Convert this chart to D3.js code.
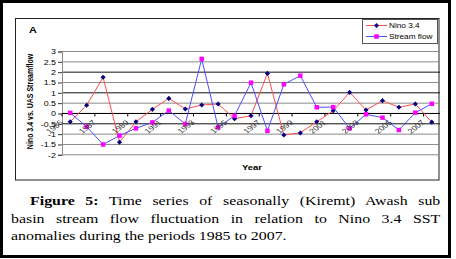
<!DOCTYPE html>
<html>
<head>
<meta charset="utf-8">
<script src="https://cdn.jsdelivr.net/npm/d3@7"></script>
<style>
body { margin: 0; background: #fff; width: 456px; height: 259px; overflow: hidden; position: relative; }
#chart { position: absolute; left: 0; top: 0; }
.cap { position: absolute; left: 11px; top: 193px; width: 338px; font-family: "Liberation Serif", "Times New Roman", serif;
       font-size: 12.5px; line-height: 17.5px; color: #000; transform: scaleX(1.27); transform-origin: 0 0; }
.cap div { text-align: justify; text-align-last: justify; white-space: nowrap; }
.cap div.first { text-indent: 15px; }
.cap div.last { text-align-last: left; }
</style>
</head>
<body>
<svg id="chart" width="456" height="259"></svg>
<div class="cap" id="caption"></div>
<script>
// data
const years = [1985, 1986, 1987, 1988, 1989, 1990, 1991, 1992, 1993, 1994, 1995, 1996,
               1997, 1998, 1999, 2000, 2001, 2002, 2003, 2004, 2005, 2006, 2007];
const nino = [-0.40, 0.40, 1.75, -1.39, -0.40, 0.20, 0.73, 0.22, 0.41, 0.46, -0.25, -0.11,
              1.94, -1.04, -0.94, -0.40, 0.13, 1.02, 0.17, 0.62, 0.30, 0.46, -0.42];
const flow = [0.03, -0.64, -1.50, -1.07, -0.72, -0.43, 0.14, -0.51, 2.64, -0.67, -0.11, 1.49,
              -0.84, 1.41, 1.83, 0.30, 0.31, -0.72, -0.04, -0.20, -0.80, 0.04, 0.47];
const labelYears = [1985, 1987, 1989, 1991, 1993, 1995, 1997, 1999, 2001, 2003, 2005, 2007];
const seriesNames = ["Nino 3.4", "Stream flow"];
const yTitle = "Nino 3.4 vs. UAS Streamflow";
const panelLabel = "A";
const xTitle = "Year";
const captionBold = "Figure 5:";
const captionLines = [" Time series of seasonally (Kiremt) Awash sub",
                      "basin stream flow fluctuation in relation to Nino 3.4 SST",
                      "anomalies during the periods 1985 to 2007."];

const SX = 1.27; // the picture is stretched sideways, text too
const font = "'Liberation Sans', Arial, sans-serif";
const svg = d3.select("#chart");

// frames
svg.append("rect").attr("x", 1.5).attr("y", 1.5).attr("width", 448).attr("height", 255)
  .attr("fill", "none").attr("stroke", "#000").attr("stroke-width", 3);
svg.append("rect").attr("x", 15.5).attr("y", 18.5).attr("width", 423.5).attr("height", 161.5)
  .attr("fill", "none").attr("stroke", "#222").attr("stroke-width", 1);

const x = d3.scaleBand().domain(years).range([62, 440]);
const cx = d => x(d) + x.bandwidth() / 2;
const y = d3.scaleLinear().domain([-2, 3]).range([154.8, 51.5]);

// gridlines (some look darker in the picture)
const darkGrid = [2, 1, 0, -0.5];
svg.append("g").selectAll("line").data(y.ticks(10)).join("line")
  .attr("x1", 62).attr("x2", 440)
  .attr("y1", d => y(d)).attr("y2", d => y(d))
  .attr("stroke", d => darkGrid.includes(d) ? "#111" : "#8a8a8a").attr("stroke-width", 1);

// y axis
const yAx = svg.append("g").attr("transform", "translate(62,0)")
  .call(d3.axisLeft(y).ticks(10).tickSize(4).tickFormat(d => String(d)));
yAx.select(".domain").attr("stroke", "#8a8a8a");
yAx.selectAll(".tick line").attr("stroke", "#333");
yAx.selectAll("text").attr("x", null).attr("dy", "0.34em")
  .attr("transform", `translate(-6,0) scale(${SX},1)`)
  .attr("font-family", font).attr("font-size", 7).attr("fill", "#000");

// x axis at zero
const y0 = y(0);
svg.append("line").attr("x1", 62).attr("x2", 440).attr("y1", y0).attr("y2", y0)
  .attr("stroke", "#000");
svg.append("g").selectAll("line").data(labelYears).join("line")
  .attr("x1", d => x(d)).attr("x2", d => x(d)).attr("y1", y0).attr("y2", y0 + 3)
  .attr("stroke", "#000");

// series
const line = vals => d3.line().x((v, i) => cx(years[i])).y(v => y(v))(vals);
svg.append("path").attr("d", line(nino)).attr("fill", "none")
  .attr("stroke", "#ff4d4d").attr("stroke-width", 1);
svg.append("g").selectAll("path").data(nino).join("path")
  .attr("d", d3.symbol(d3.symbolSquare, 13))
  .attr("transform", (v, i) => `translate(${cx(years[i])},${y(v)}) rotate(45)`)
  .attr("fill", "#000080");
svg.append("path").attr("d", line(flow)).attr("fill", "none")
  .attr("stroke", "#4d4dff").attr("stroke-width", 1);
svg.append("g").selectAll("path").data(flow).join("path")
  .attr("d", d3.symbol(d3.symbolSquare, 20))
  .attr("transform", (v, i) => `translate(${cx(years[i])},${y(v)})`)
  .attr("fill", "#ff00ff");

// x tick labels, drawn over the plot like in the picture
svg.append("g").selectAll("text").data(labelYears).join("text")
  .attr("transform", d => `translate(${cx(d) - 6.5},${y0 + 9.5}) scale(${SX},1) rotate(-45)`)
  .attr("text-anchor", "end").attr("font-family", font).attr("font-size", 7).attr("fill", "#333")
  .text(d => d);

// titles
svg.append("text").attr("transform", `translate(29,33) scale(${SX},1)`)
  .attr("font-family", font).attr("font-size", 8.5).attr("font-weight", "bold").text(panelLabel);
svg.append("text").attr("transform", `translate(252,170) scale(${SX},1)`)
  .attr("text-anchor", "middle").attr("font-family", font).attr("font-size", 7.5)
  .attr("font-weight", "bold").text(xTitle);
svg.append("text").attr("transform", `translate(29.5,101.5) scale(${SX},1) rotate(-90)`)
  .attr("text-anchor", "middle").attr("dy", "0.35em").attr("font-family", font)
  .attr("font-size", 7).attr("font-weight", "bold").text(yTitle);

// legend
const lg = svg.append("g");
lg.append("rect").attr("x", 362.5).attr("y", 19.5).attr("width", 75).attr("height", 24)
  .attr("fill", "#fff").attr("stroke", "#555");
const rows = lg.selectAll("g").data(seriesNames).join("g")
  .attr("transform", (d, i) => `translate(366,${25.5 + i * 11})`);
rows.append("line").attr("x1", 0).attr("x2", 21).attr("stroke", (d, i) => i ? "#4d4dff" : "#ff4d4d");
rows.append("path")
  .attr("d", (d, i) => d3.symbol(d3.symbolSquare, i ? 20 : 13)())
  .attr("transform", (d, i) => `translate(10.5,0) rotate(${i ? 0 : 45})`)
  .attr("fill", (d, i) => i ? "#ff00ff" : "#000080");
rows.append("text").attr("transform", `translate(23,2.3) scale(${SX},1)`)
  .attr("font-family", font).attr("font-size", 6.5).text(d => d);

// caption
const cap = d3.select("#caption");
captionLines.forEach((t, i) => {
  const div = cap.append("div").attr("class", i === 0 ? "first" : (i === captionLines.length - 1 ? "last" : null));
  if (i === 0) div.append("b").text(captionBold);
  div.append("span").text(t);
});
</script>
</body>
</html>
